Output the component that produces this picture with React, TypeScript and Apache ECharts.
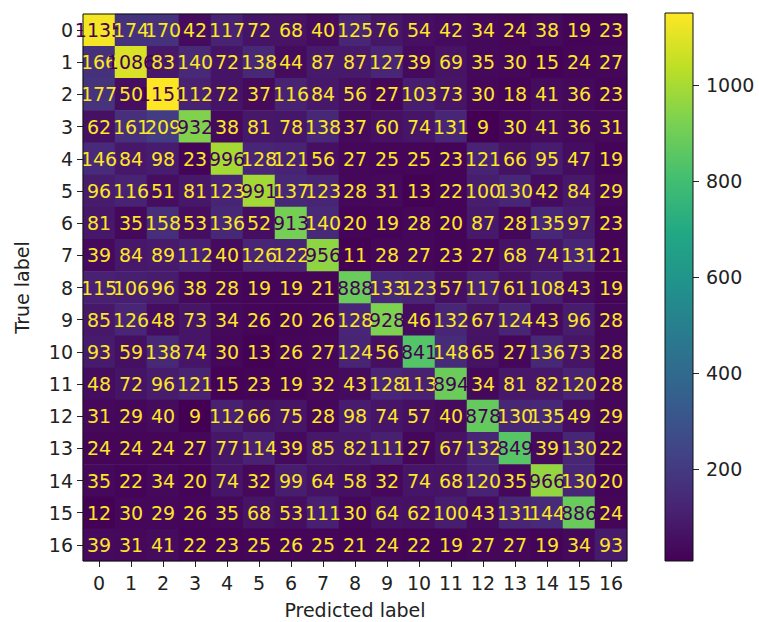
import React, { useEffect, useRef } from "react";
import * as echarts from "echarts";

const xLabels = ["0","1","2","3","4","5","6","7","8","9","10","11","12","13","14","15","16"];
const yLabels = ["0","1","2","3","4","5","6","7","8","9","10","11","12","13","14","15","16"];

const row0 = [1135, 174, 170, 42, 117, 72, 68, 40, 125, 76, 54, 42, 34, 24, 38, 19, 23];
const row1 = [166, 1086, 83, 140, 72, 138, 44, 87, 87, 127, 39, 69, 35, 30, 15, 24, 27];
const row2 = [177, 50, 1151, 112, 72, 37, 116, 84, 56, 27, 103, 73, 30, 18, 41, 36, 23];
const row3 = [62, 161, 209, 932, 38, 81, 78, 138, 37, 60, 74, 131, 9, 30, 41, 36, 31];
const row4 = [146, 84, 98, 23, 996, 128, 121, 56, 27, 25, 25, 23, 121, 66, 95, 47, 19];
const row5 = [96, 116, 51, 81, 123, 991, 137, 123, 28, 31, 13, 22, 100, 130, 42, 84, 29];
const row6 = [81, 35, 158, 53, 136, 52, 913, 140, 20, 19, 28, 20, 87, 28, 135, 97, 23];
const row7 = [39, 84, 89, 112, 40, 126, 122, 956, 11, 28, 27, 23, 27, 68, 74, 131, 21];
const row8 = [115, 106, 96, 38, 28, 19, 19, 21, 888, 133, 123, 57, 117, 61, 108, 43, 19];
const row9 = [85, 126, 48, 73, 34, 26, 20, 26, 128, 928, 46, 132, 67, 124, 43, 96, 28];
const row10 = [93, 59, 138, 74, 30, 13, 26, 27, 124, 56, 841, 148, 65, 27, 136, 73, 28];
const row11 = [48, 72, 96, 121, 15, 23, 19, 32, 43, 128, 113, 894, 34, 81, 82, 120, 28];
const row12 = [31, 29, 40, 9, 112, 66, 75, 28, 98, 74, 57, 40, 878, 130, 135, 49, 29];
const row13 = [24, 24, 24, 27, 77, 114, 39, 85, 82, 111, 27, 67, 132, 849, 39, 130, 22];
const row14 = [35, 22, 34, 20, 74, 32, 99, 64, 58, 32, 74, 68, 120, 35, 966, 130, 20];
const row15 = [12, 30, 29, 26, 35, 68, 53, 111, 30, 64, 62, 100, 43, 131, 144, 886, 24];
const row16 = [39, 31, 41, 22, 23, 25, 26, 25, 21, 24, 22, 19, 27, 27, 19, 34, 93];

const matrix = [row0, row1, row2, row3, row4, row5, row6, row7, row8, row9, row10, row11, row12, row13, row14, row15, row16];
const colorbarTicks = [200, 400, 600, 800, 1000];

const viridis = ["#440154", "#482475", "#414487", "#355f8d", "#2a788e", "#21918c", "#22a884", "#44bf70", "#7ad151", "#bddf26", "#fde725"];

const FONT = "DejaVu Sans";
const FS = 19;

export default function App() {
  const ref = useRef<HTMLDivElement>(null);
  useEffect(() => {
    if (!ref.current) return;
    const chart = echarts.init(ref.current, undefined, { renderer: "svg" });
    let vmin = Infinity, vmax = -Infinity;
    matrix.forEach(r => r.forEach(v => { vmin = Math.min(vmin, v); vmax = Math.max(vmax, v); }));
    const thresh = (vmin + vmax) / 2;
    const data: any[] = [];
    matrix.forEach((r, yi) => r.forEach((v, xi) => {
      data.push({ value: [xi, yi, v], label: { color: v > thresh ? "#440154" : "#fde725" } });
    }));
    const gL = 83, gT = 14, gW = 544, gH = 547;
    const cL = 665, cT = 13, cW = 28, cH = 548;
    chart.setOption({
      animation: false,
      backgroundColor: "#ffffff",
      grid: [
        { left: gL, top: gT, width: gW, height: gH, outerBoundsMode: "none", containLabel: false },
        { left: cL, top: cT, width: cW, height: cH, outerBoundsMode: "none", containLabel: false },
      ],
      xAxis: [
        {
          type: "category", data: xLabels, gridIndex: 0,
          axisLine: { show: false },
          axisTick: { show: true, alignWithLabel: true, length: 6, lineStyle: { color: "#222" } },
          axisLabel: { color: "#222", fontSize: FS, fontFamily: FONT, margin: 12, interval: 0 },
          splitLine: { show: false },
          name: "Predicted label", nameLocation: "middle", nameGap: 39,
          nameTextStyle: { color: "#222", fontSize: FS, fontFamily: FONT },
        },
        { type: "category", data: ["c"], gridIndex: 1, show: false },
      ],
      yAxis: [
        {
          type: "category", data: yLabels, gridIndex: 0, inverse: true,
          axisLine: { show: false },
          axisTick: { show: true, alignWithLabel: true, length: 6, lineStyle: { color: "#222" } },
          axisLabel: { color: "#222", fontSize: FS, fontFamily: FONT, margin: 10, interval: 0 },
          splitLine: { show: false },
          name: "True label", nameLocation: "middle", nameGap: 52, nameRotate: 90,
          nameTextStyle: { color: "#222", fontSize: FS, fontFamily: FONT },
        },
        {
          type: "value", gridIndex: 1, position: "right", min: vmin, max: vmax,
          axisLine: { show: false },
          splitLine: { show: false },
          axisTick: { show: true, length: 6, customValues: colorbarTicks, lineStyle: { color: "#222" } },
          axisLabel: {
            show: true, customValues: colorbarTicks, color: "#222", fontSize: FS, fontFamily: FONT, margin: 13,
            formatter: (v: number) => String(v),
          },
        },
      ],
      visualMap: {
        show: false, type: "continuous", min: vmin, max: vmax, seriesIndex: 0, dimension: 2,
        inRange: { color: viridis },
      },
      graphic: [
        {
          type: "rect", z: 1,
          shape: { x: cL, y: cT, width: cW, height: cH },
          style: {
            fill: new echarts.graphic.LinearGradient(0, 1, 0, 0,
              viridis.map((c, i) => ({ offset: i / (viridis.length - 1), color: c }))),
            stroke: "#111", lineWidth: 1,
          },
        },
        {
          type: "rect", z: 100, silent: true,
          shape: { x: gL, y: gT, width: gW, height: gH },
          style: { fill: "none", stroke: "#111", lineWidth: 1 },
        },
      ],
      series: [
        {
          type: "heatmap", xAxisIndex: 0, yAxisIndex: 0, data,
          itemStyle: { borderWidth: 0 },
          label: { show: true, fontSize: FS, fontFamily: FONT, formatter: (p: any) => String(p.value[2]) },
          emphasis: { disabled: true },
        },
      ],
    });
    return () => chart.dispose();
  }, []);
  return <div ref={ref} style={{ position: "fixed", left: 0, top: 0, width: 759, height: 622 }} />;
}
